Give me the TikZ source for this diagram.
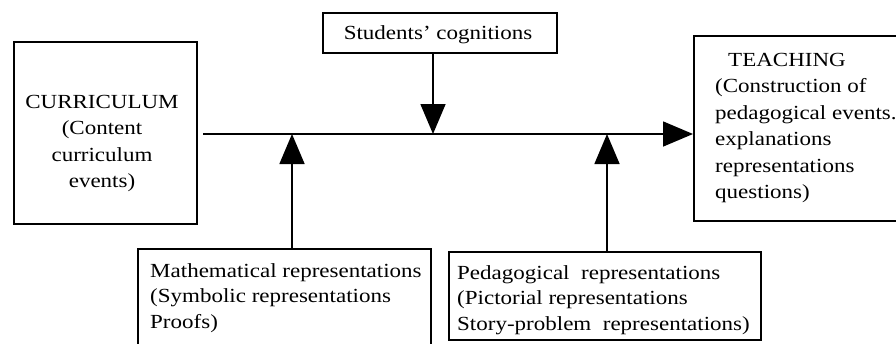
\documentclass[tikz,border=0pt]{standalone}
\usepackage{fontspec}
\setmainfont{Liberation Serif}[FakeStretch=1.15]
\usetikzlibrary{arrows.meta}
\begin{document}
\begin{tikzpicture}[x=1pt,y=-1pt,
  box/.style={draw, line width=1.5pt, inner sep=0pt, anchor=north west},
  lbl/.style={inner sep=0pt, align=left, anchor=north west, font=\fontsize{20}{25.5}\selectfont},
  conn/.style={line width=1.6pt, -{Triangle[length=30pt,width=25pt]}}]
\useasboundingbox (0,0) rectangle (896,343);
% boxes
\node[box, minimum width=183pt, minimum height=182pt] (cur) at (13,41) {};
\node[box, minimum width=212pt, minimum height=185pt] (teach) at (693,35) {};
\node[box, minimum width=234pt, minimum height=40pt] (stud) at (322,12) {};
\node[box, minimum width=293pt, minimum height=100pt] (math) at (137,248) {};
\node[box, minimum width=312pt, minimum height=88pt] (ped) at (448,251) {};
% texts
\node[lbl, align=center, anchor=north, font=\fontsize{20}{26.3}\selectfont] (curT) at (102,95) {CURRICULUM\\(Content\\curriculum\\events)};
\node[lbl, font=\fontsize{20}{26.5}\selectfont] (teachT) at (715,53) {\hspace*{13pt}TEACHING\\(Construction of\\pedagogical events.\\explanations\\representations\\questions)};
\node[lbl, anchor=north] (studT) at (438,25) {Students' cognitions};
\node[lbl] (mathT) at (150,263) {Mathematical representations\\(Symbolic representations\\Proofs)};
\node[lbl] (pedT) at (457,265) {Pedagogical\ \ representations\\(Pictorial representations\\Story-problem\ \ representations)};
% connectors
\coordinate (mstart) at (203,134);
\coordinate (sx) at (433,134);
\coordinate (ax) at (292,134);
\coordinate (bx) at (607,134);
\draw[conn] (mstart) -- (mstart -| teach.west);
\draw[conn] (sx |- stud.south) -- (sx);
\draw[conn] (ax |- math.north) -- (ax);
\draw[conn] (bx |- ped.north) -- (bx);
\end{tikzpicture}
\end{document}
